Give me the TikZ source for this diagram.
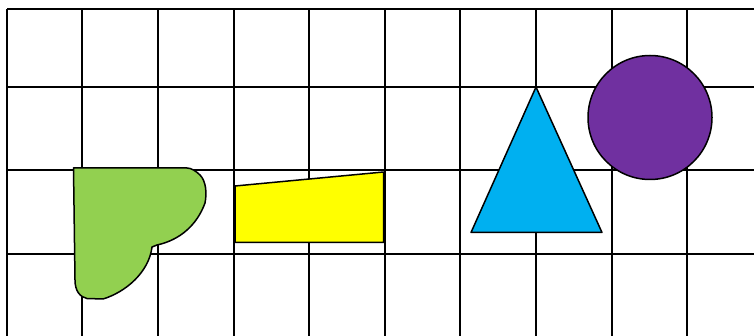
\documentclass[tikz,border=0pt]{standalone}
\usepackage{tikz}
\tikzset{gridline/.style={black, line width=2pt},
figure/.style={draw=black, line width=1.5pt, line join=round},
}
%office colours
\definecolor{leafgreen}{RGB}{146,208,80}
\definecolor{lemon}{RGB}{255,255,0}
\definecolor{skyblue}{RGB}{0,176,240}
\definecolor{plum}{RGB}{112,48,160}

\begin{document}
\begin{tikzpicture}[x=1pt,y=-1pt]
\useasboundingbox (0,0) rectangle (754,336);
% grid
\foreach \x in {7,82,158,234,309,385,460,536,612,687}
     \draw[gridline] (\x,9) -- (\x,336);
\foreach \y in {9,87,170,254}
     \draw[gridline] (7,\y) -- (754,\y);

% green blob
\draw[figure,fill=leafgreen] (73.5,168) -- (75,280)
  .. controls (75,291) and (80,297) .. (87,298.5) -- (103,299)
  .. controls (126,292) and (149,272) .. (152,247) -- (157,245)
  .. controls (180,240) and (197,225) .. (205,203)
  .. controls (207,193) and (206,181) .. (200,175)
  .. controls (196,171) and (191,168) .. (187,168) -- cycle;

% yellow trapezium
\draw[figure,fill=lemon] (235,186) -- (383.5,172) -- (383.5,242.5) -- (235,242.5) -- cycle;

% blue triangle
\draw[figure,fill=skyblue] (536,87) -- (602,232.5) -- (471,232.5) -- cycle;

% purple circle
\draw[figure,fill=plum] (650,117.5) circle (62);

\end{tikzpicture}
\end{document}
